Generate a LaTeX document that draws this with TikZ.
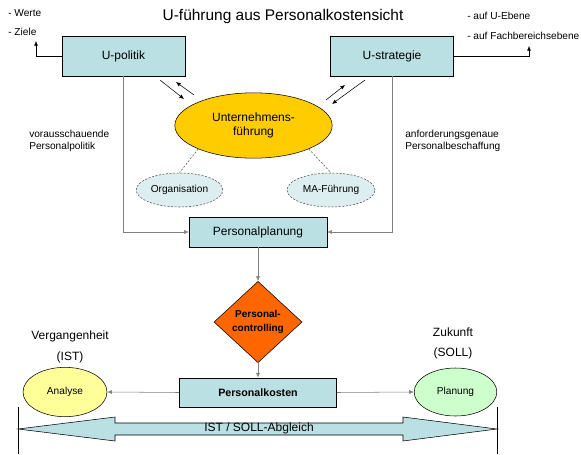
\documentclass[tikz,border=0pt]{standalone}
\usepackage{fontspec}
\setmainfont{Liberation Sans}
\usetikzlibrary{shapes.geometric,arrows.meta}

\definecolor{boxblau}{HTML}{BBE0E3}
\definecolor{fuehrgelb}{HTML}{FFCC00}
\definecolor{hellblau}{HTML}{DDEEF1}
\definecolor{ctrlorange}{HTML}{FF6600}
\definecolor{hellgelb}{HTML}{FFFF99}
\definecolor{hellgruen}{HTML}{CCFFCC}
\definecolor{linie}{HTML}{808080}

\tikzset{
  kasten/.style={draw, fill=boxblau, inner sep=0pt, font=\fontsize{9}{11}\selectfont},
  klein/.style={inner sep=0pt, align=left, font=\fontsize{7.6}{8.8}\selectfont},
  gross/.style={inner sep=0pt, align=center, font=\fontsize{9}{11}\selectfont},
  oval/.style={ellipse, draw, inner sep=0pt, font=\fontsize{7.6}{9}\selectfont},
  gestr/.style={dash pattern=on 1.5pt off 1.2pt},
  pfeil/.style={-{Latex[length=3.5pt,width=3pt]}}
}

\begin{document}
\begin{tikzpicture}[x=0.75pt,y=-0.75pt]
\useasboundingbox (0,0) rectangle (581,454);

% Titel und Stichworte
\node[font=\fontsize{11.6}{14}\selectfont] (titel) at (283,16) {U-führung aus Personalkostensicht};
\node[klein, anchor=west] (werte) at (8,13) {- Werte};
\node[klein, anchor=west] (ziele) at (8,32) {- Ziele};
\node[klein, anchor=west] (uebene) at (467,16) {- auf U-Ebene};
\node[klein, anchor=west] (fachebene) at (467,36) {- auf Fachbereichsebene};
\node[klein, anchor=west] (vorpol) at (29,141) {vorausschauende\\Personalpolitik};
\node[klein, anchor=west] (anfbesch) at (405,141) {anforderungsgenaue\\Personalbeschaffung};

% obere Ebene
\node[kasten, minimum width=92pt, minimum height=30pt] (upol) at (123.5,56) {U-politik};
\node[kasten, minimum width=92pt, minimum height=30pt] (ustr) at (392,56) {U-strategie};
\node[oval, fill=fuehrgelb, minimum width=118pt, minimum height=49pt, align=center,
  font=\fontsize{9}{11}\selectfont] (fue) at (253.5,125.5) {Unternehmens-\\führung};
\node[oval, gestr, draw=black!70, fill=hellblau, minimum width=65pt, minimum height=25.5pt] (org) at (179.5,190) {Organisation};
\node[oval, gestr, draw=black!70, fill=hellblau, minimum width=66pt, minimum height=25.5pt] (mafue) at (331,190) {MA-Führung};
\node[kasten, minimum width=103.5pt, minimum height=22.5pt] (plan) at (258,232) {Personalplanung};

\coordinate (ziel) at (36,41);
\coordinate (ebene) at (529,46);
\draw[pfeil] (upol.west) -| (ziel);
\draw[pfeil] (ustr.east) -| (ebene);

% Wechselpfeile
\coordinate (la1) at (160,80);
\coordinate (la2) at (184,99);
\coordinate (lb1) at (194,95);
\coordinate (lb2) at (176,82);
\coordinate (ra1) at (326,100);
\coordinate (ra2) at (345,85);
\coordinate (rb1) at (365,80);
\coordinate (rb2) at (332,104);
\draw[pfeil, thin] (la1) -- (la2);
\draw[pfeil, thin] (lb1) -- (lb2);
\draw[pfeil, thin] (ra1) -- (ra2);
\draw[pfeil, thin] (rb1) -- (rb2);

\draw[gestr, black!70] (fue.203) -- (org.north);
\draw[gestr, black!70] (fue.337) -- (mafue.north);

\draw[pfeil, linie] (upol.south) |- (plan.west);
\draw[pfeil, linie] (ustr.south) |- (plan.east);

% Controlling
\node[diamond, draw, fill=ctrlorange, inner sep=0pt, minimum width=66pt, minimum height=61pt,
  align=center, font=\bfseries\fontsize{7.5}{10}\selectfont] (ctrl) at (258,322) {Personal-\\controlling};
\node[kasten, minimum width=118pt, minimum height=22pt, font=\bfseries\fontsize{8}{10}\selectfont] (kost) at (258,392.5) {Personalkosten};
\node[oval, fill=hellgelb, minimum width=63pt, minimum height=37pt] (ana) at (65,392) {Analyse};
\node[oval, fill=hellgruen, minimum width=62pt, minimum height=36pt] (planung) at (455.5,392) {Planung};

\draw[pfeil, linie] (plan.south) -- (ctrl.north);
\draw[pfeil, linie] (ctrl.south) -- (kost.north);
\draw[pfeil, linie] (kost.west) -- (ana.east);
\draw[pfeil, linie] (kost.east) -- (planung.west);

\node[gross] (verg) at (70,336) {Vergangenheit};
\node[gross] (ist) at (70,357) {(IST)};
\node[gross] (zuk) at (453,332) {Zukunft};
\node[gross] (soll) at (453,353) {(SOLL)};

% Abgleich
\draw (18,407) -- (18,454);
\draw (497,407) -- (497,454);
\draw[fill=boxblau] (18,429) -- (115,417) -- (115,423) -- (403,423) -- (403,417) -- (497,429)
  -- (403,441) -- (403,435) -- (115,435) -- (115,441) -- cycle;
\node[gross] (abgl) at (259,428) {IST / SOLL-Abgleich};

\end{tikzpicture}
\end{document}
